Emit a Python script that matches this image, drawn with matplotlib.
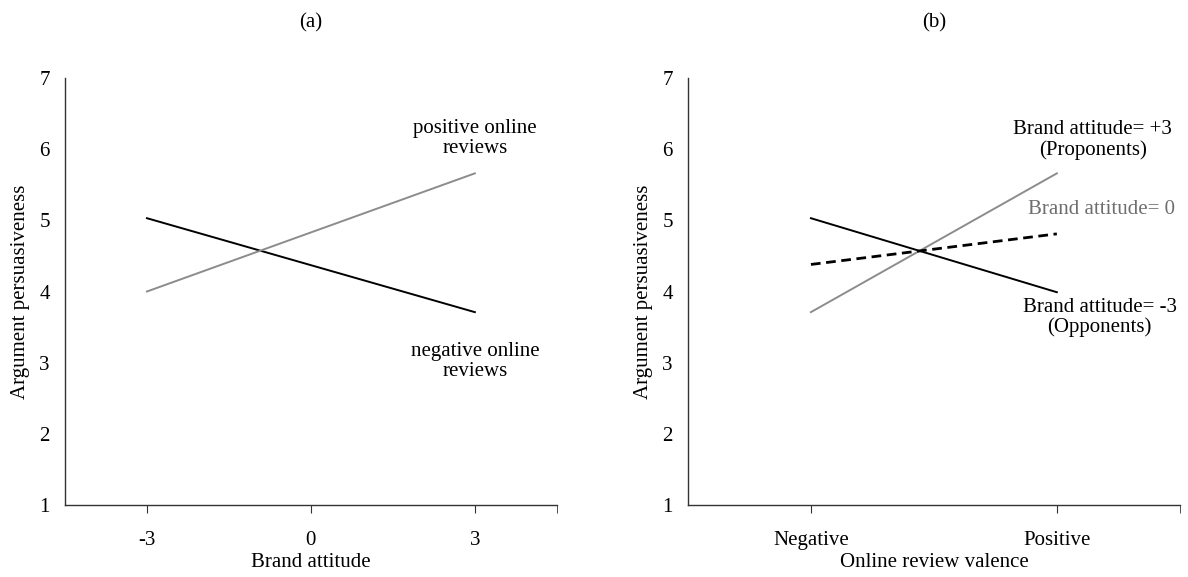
import matplotlib
matplotlib.use("Agg")
import matplotlib.pyplot as plt

plt.rcParams["font.family"] = ["Liberation Serif", "DejaVu Serif"]
plt.rcParams["axes.unicode_minus"] = False

# panel (a): brand attitude on x
brand_attitude = [-3, 3]
neg_reviews = [5.03, 3.71]
pos_reviews = [4.0, 5.66]

# panel (b): review valence on x
valence = ["Negative", "Positive"]
ba_minus3 = [5.03, 3.99]
ba_zero = [4.38, 4.81]
ba_plus3 = [3.71, 5.66]

yticks = [1, 2, 3, 4, 5, 6, 7]
gray = "#8c8c8c"
fs = 15

fig = plt.figure(figsize=(11.88, 5.77), dpi=100)
ax1 = fig.add_axes([0.0547, 0.1248, 0.414, 0.74])
ax2 = fig.add_axes([0.5791, 0.1248, 0.414, 0.74])


def style_axes(ax, title):
    for side in ["top", "right"]:
        ax.spines[side].set_visible(False)
    for side in ["left", "bottom"]:
        ax.spines[side].set_linewidth(1.0)
        ax.spines[side].set_color("#333333")
    ax.set_ylim(1, 7)
    ax.set_yticks(yticks)
    ax.tick_params(axis="y", length=0, pad=11, labelsize=fs)
    ax.tick_params(axis="x", which="both", direction="out", length=6,
                   color="#333333", pad=13, labelsize=fs)
    ax.set_ylabel("Argument persuasiveness", fontsize=fs)
    ax.yaxis.label.set_va("center")
    ax.yaxis.set_label_coords(-0.09, 0.5)
    ax.xaxis.label.set_va("center")
    ax.xaxis.set_label_coords(0.5, -0.134)
    ax.text(0.5, 1.13, title, transform=ax.transAxes, ha="center",
            va="center", fontsize=fs)


# (a)
ax1.plot(brand_attitude, neg_reviews, color="black", lw=1.4)
ax1.plot(brand_attitude, pos_reviews, color=gray, lw=1.4)
ax1.set_xlim(-4.5, 4.5)
ax1.set_xticks([-3, 0, 3])
ax1.set_xticks([4.5], minor=True)
ax1.set_xlabel("Brand attitude", fontsize=fs)
style_axes(ax1, "(a)")
ax1.text(3, 6.15, "positive online\nreviews", ha="center", va="center",
         fontsize=fs, linespacing=1.05)
ax1.text(3, 3.02, "negative online\nreviews", ha="center", va="center",
         fontsize=fs, linespacing=1.05)

# (b)
xb = [0, 1]
ax2.plot(xb, ba_minus3, color="black", lw=1.4)
ax2.plot(xb, ba_plus3, color=gray, lw=1.4)
ax2.plot(xb, ba_zero, color="black", lw=2.0, ls=(0, (3.5, 2)))
ax2.set_xlim(-0.5, 1.5)
ax2.set_xticks(xb)
ax2.set_xticklabels(valence)
ax2.set_xticks([1.5], minor=True)
ax2.set_xlabel("Online review valence", fontsize=fs)
style_axes(ax2, "(b)")
ax2.text(1.146, 6.13, "Brand attitude= +3\n(Proponents)", ha="center",
         va="center", fontsize=fs, linespacing=1.05)
ax2.text(1.18, 5.15, "Brand attitude= 0", ha="center", va="center",
         fontsize=fs, color="#6e6e6e")
ax2.text(1.174, 3.635, "Brand attitude= -3\n(Opponents)", ha="center",
         va="center", fontsize=fs, linespacing=1.05)

fig.savefig("out.png", dpi=100)
